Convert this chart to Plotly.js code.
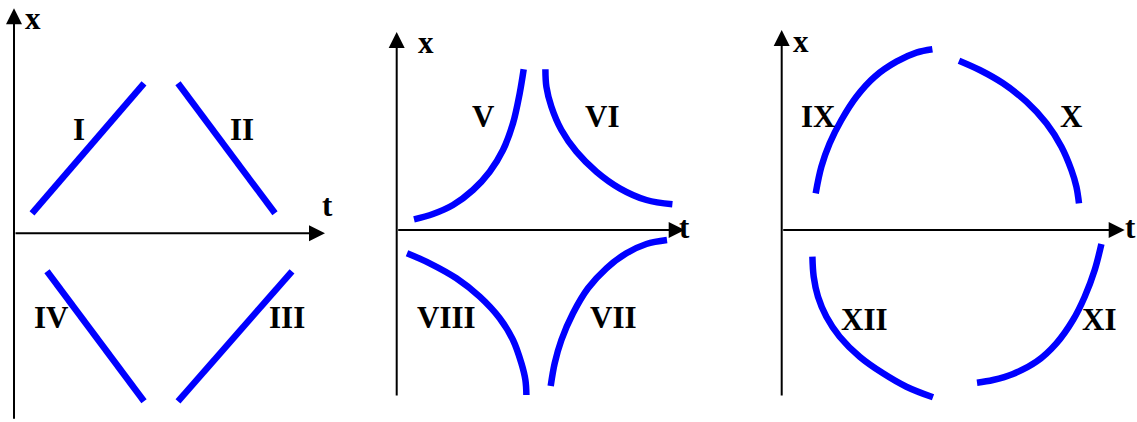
<!DOCTYPE html>
<html>
<head>
<meta charset="utf-8">
<script src="https://cdn.plot.ly/plotly-3.0.1.min.js"></script>
<style>html,body{margin:0;padding:0;background:#fff;}#chart{width:1137px;height:422px;}</style>
</head>
<body>
<div id="chart"></div>
<script>
// ---- Panel 1: straight lines (t, x) ----
const tI = [1.8, 13.0],   xI = [2.0, 15.0];
const tII = [16.4, 26.1], xII = [15.0, 2.0];
const tIII = [16.4, 27.8], xIII = [-16.8, -3.8];
const tIV = [3.3, 13.0],  xIV = [-3.8, -16.8];

// ---- Panel 2: hyperbola-like curves ----
const tV = [1.73, 3.63, 5.63, 7.63, 9.3, 10.63, 11.63, 12.3, 12.7];
const xV = [1.07, 1.6, 2.5, 4.0, 5.83, 8.0, 10.67, 13.67, 16.07];
const tVI = [14.87, 14.97, 15.47, 16.47, 17.97, 19.97, 22.3, 24.97, 27.57];
const xVI = [16.07, 14.33, 12.33, 10.0, 7.83, 5.83, 4.17, 3.0, 2.57];
const tVII = [15.4, 15.8, 16.47, 17.63, 19.13, 20.97, 22.97, 24.97, 27.03];
const xVII = [-15.6, -13.33, -11.0, -8.33, -5.83, -3.83, -2.33, -1.4, -1.0];
const tVIII = [1.03, 3.3, 5.97, 8.3, 10.3, 11.63, 12.47, 12.87, 12.97];
const xVIII = [-2.33, -3.33, -4.83, -6.67, -8.83, -11.0, -13.33, -15.0, -16.5];

// ---- Panel 3: arcs ----
const tIX = [3.4, 3.97, 4.8, 5.97, 7.47, 9.3, 11.47, 13.47, 15.07];
const xIX = [3.67, 6.33, 8.67, 11.0, 13.33, 15.33, 16.83, 17.73, 18.07];
const tX = [17.73, 19.8, 22.13, 24.47, 26.47, 27.97, 28.97, 29.47, 29.73];
const xX = [16.93, 16.0, 14.67, 12.83, 10.67, 8.33, 6.0, 4.33, 2.67];
const tXI = [31.97, 31.3, 30.3, 29.13, 27.47, 25.47, 23.13, 21.13, 19.53];
const xXI = [-1.4, -4.0, -6.67, -9.0, -11.33, -13.17, -14.4, -15.0, -15.27];
const tXII = [3.07, 3.2, 3.63, 4.47, 5.8, 7.8, 10.13, 12.47, 15.13];
const xXII = [-2.67, -4.67, -6.67, -8.67, -10.67, -12.67, -14.33, -15.67, -16.73];

// ---- Labels ----
const labels1 = ['I', 'II', 'III', 'IV'];
const labT1 = [6.5, 22.8, 27.3, 3.7], labX1 = [10.4, 10.4, -8.4, -8.4];
const labels2 = ['V', 'VI', 'VII', 'VIII'];
const labT2 = [8.7, 20.5, 21.7, 5.0], labX2 = [11.4, 11.4, -8.7, -8.7];
const labels3 = ['IX', 'X', 'XI', 'XII'];
const labT3 = [3.7, 29.0, 31.7, 8.3], labX3 = [11.4, 11.4, -8.9, -8.9];

// axis names and their label positions per panel
const axisNames = ['x', 't'];
const xNameT = [1.9, 2.9, 1.9], xNameX = [21.5, 18.8, 18.9];
const tNameT = [31.3, 28.8, 34.9], tNameX = [2.8, 0.3, 0.3];

// axis extents per panel (bottom of vertical axis, top tip, right tip)
const axBottom = [-18.7, -16.7, -16.7];
const axTop = [22.5, 19.8, 20.0];
const axRight = [31.1, 28.8, 34.3];

// ---- layout geometry ----
const W = 1137, H = 422, S = 10; // px per unit
const originPx = [[14, 233.3], [396.7, 230], [781.7, 230]];

const BLUE = '#0000ff';
const traces = [];
function addCurve(t, x, k) {
  const sfx = k === 0 ? '' : String(k + 1);
  traces.push({type: 'scatter', mode: 'lines', x: t, y: x,
    xaxis: 'x' + sfx, yaxis: 'y' + sfx,
    line: {color: BLUE, width: 6.5, shape: 'spline', smoothing: 1},
    hoverinfo: 'skip', showlegend: false});
}
addCurve(tI, xI, 0); addCurve(tII, xII, 0); addCurve(tIII, xIII, 0); addCurve(tIV, xIV, 0);
addCurve(tV, xV, 1); addCurve(tVI, xVI, 1); addCurve(tVII, xVII, 1); addCurve(tVIII, xVIII, 1);
addCurve(tIX, xIX, 2); addCurve(tX, xX, 2); addCurve(tXI, xXI, 2); addCurve(tXII, xXII, 2);

const layout = {
  width: W, height: H,
  margin: {l: 0, r: 0, t: 0, b: 0},
  paper_bgcolor: '#ffffff', plot_bgcolor: 'rgba(0,0,0,0)',
  showlegend: false,
  annotations: []
};
const FONT = {family: 'Liberation Serif, Times New Roman, serif', size: 31, color: '#000'};

for (let k = 0; k < 3; k++) {
  const sfx = k === 0 ? '' : String(k + 1);
  const [ox, oy] = originPx[k];
  layout['xaxis' + sfx] = {domain: [0, 1], range: [-ox / S, (W - ox) / S], visible: false,
    anchor: 'y' + sfx, fixedrange: true};
  layout['yaxis' + sfx] = {domain: [0, 1], range: [-(H - oy) / S, oy / S], visible: false,
    anchor: 'x' + sfx, fixedrange: true};
  const xr = 'x' + sfx, yr = 'y' + sfx;
  layout.annotations.push({x: 0, y: axTop[k], ax: 0, ay: axBottom[k], xref: xr, yref: yr,
    axref: xr, ayref: yr, text: '', showarrow: true, arrowhead: 2, arrowsize: 1.6,
    arrowwidth: 2, arrowcolor: '#000', standoff: 0});
  layout.annotations.push({x: axRight[k], y: 0, ax: 0, ay: 0, xref: xr, yref: yr,
    axref: xr, ayref: yr, text: '', showarrow: true, arrowhead: 2, arrowsize: 1.6,
    arrowwidth: 2, arrowcolor: '#000', standoff: 0});
  layout.annotations.push({x: xNameT[k], y: xNameX[k], xref: xr, yref: yr, text: '<b>' + axisNames[0] + '</b>',
    showarrow: false, font: FONT});
  layout.annotations.push({x: tNameT[k], y: tNameX[k], xref: xr, yref: yr, text: '<b>' + axisNames[1] + '</b>',
    showarrow: false, font: FONT});
}
function addLabels(names, ts, xs, k) {
  const sfx = k === 0 ? '' : String(k + 1);
  names.forEach((n, i) => layout.annotations.push({x: ts[i], y: xs[i], xref: 'x' + sfx, yref: 'y' + sfx,
    text: '<b>' + n + '</b>', showarrow: false, font: FONT}));
}
addLabels(labels1, labT1, labX1, 0);
addLabels(labels2, labT2, labX2, 1);
addLabels(labels3, labT3, labX3, 2);

Plotly.newPlot('chart', traces, layout, {displayModeBar: false, staticPlot: true});
</script>
</body>
</html>
